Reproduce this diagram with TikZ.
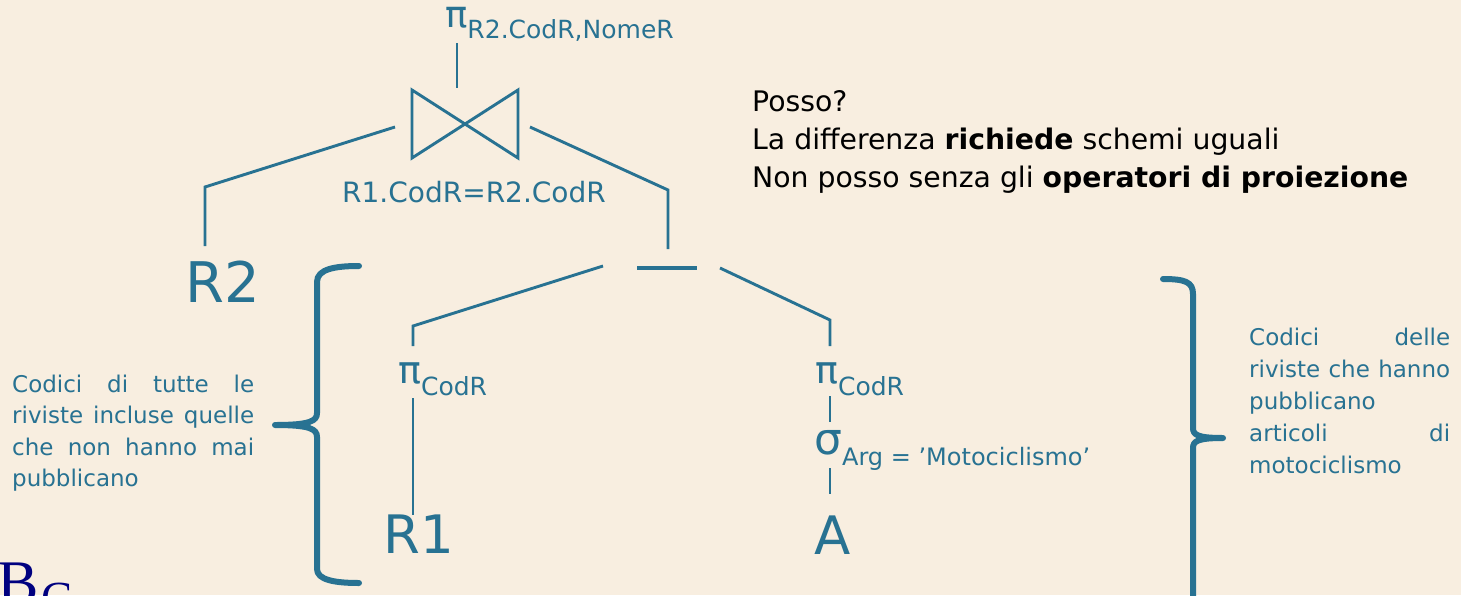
\documentclass[tikz,border=0pt]{standalone}
\usepackage{fontspec}
\setmainfont{DejaVu Sans}
\newfontfamily\logofont{Liberation Serif}
\definecolor{tl}{RGB}{40,114,146}
\definecolor{bgc}{RGB}{248,238,224}
\definecolor{navy}{RGB}{0,0,128}
\newcommand\fs[1]{\fontsize{#1}{#1}\selectfont}
\newcommand\opsym[5]{{\fs{#2}#1}\raisebox{-#5pt}{\fs{#4}#3}}
\begin{document}
\begin{tikzpicture}[x=1pt,y=-1pt]
\tikzset{
  edge/.style={draw=tl,line width=2.9pt},
  bar/.style={draw=tl,line width=4pt},
  bracestroke/.style={draw=tl,line width=6pt,line cap=round,line join=round},
  lbl/.style={text=tl,inner sep=0pt,anchor=base west},
  sidetxt/.style={text=tl,inner sep=0pt,anchor=base west}
}
\useasboundingbox (0,0) rectangle (1461,595);
\fill[bgc] (0,0) rectangle (1461,595);
\clip (0,0) rectangle (1461,595);

% labels
\node[lbl] (pitop) at (445,27) {\opsym{π}{37}{R2.CodR,NomeR}{25}{11}};
\node[lbl] (cond) at (342,202) {\fs{28}R1.CodR=R2.CodR};
\node[lbl] (r2) at (185,302) {\fs{56}R2};
\node[lbl] (pil) at (398,383) {\opsym{π}{38}{CodR}{25}{12}};
\node[lbl] (pir) at (815,383) {\opsym{π}{38}{CodR}{25}{12}};
\node[lbl] (sig) at (814,454) {\opsym{σ}{44}{Arg = ’Motociclismo’}{24}{11}};
\node[lbl] (r1) at (383,553) {\fs{53}R1};
\node[lbl] (a) at (814,554) {\fs{53}A};

% side texts
\node[sidetxt] (txtl) at (12,392) {\parbox[t]{242pt}{\fontsize{23}{31.5}\selectfont
  \hbox to 242pt{Codici\hfill di\hfill tutte\hfill le}
  \hbox to 242pt{riviste\hfill incluse\hfill quelle}
  \hbox to 242pt{che\hfill non\hfill hanno\hfill mai}
  \hbox{pubblicano}}};
\node[sidetxt] (txtr) at (1249,345) {\parbox[t]{201pt}{\fontsize{23}{32}\selectfont
  \hbox to 201pt{Codici\hfill delle}
  \hbox to 201pt{riviste\hfill che\hfill hanno}
  \hbox{pubblicano}
  \hbox to 201pt{articoli\hfill di}
  \hbox{motociclismo}}};

\node[anchor=base west,inner sep=0pt,text=black] (posso) at (752,111) {\parbox[t]{700pt}{\fontsize{28.3}{38}\selectfont
  Posso?\\La differenza \textbf{richiede} schemi uguali\\Non posso senza gli \textbf{operatori di proiezione}}};

% logo
\node[anchor=base west,inner sep=0pt,text=navy] (logo) at (-3,603) {\logofont\fs{62}B\kern3pt\raisebox{-10pt}{\fs{46}G}};

% coordinates
\coordinate (t1) at (457,43);  \coordinate (t2) at (457,88);
\coordinate (b1) at (412,90);  \coordinate (b2) at (412,158);
\coordinate (b3) at (518,90);  \coordinate (b4) at (518,158);
\coordinate (jl) at (395,127); \coordinate (jlk) at (205,187); \coordinate (jle) at (205,246);
\coordinate (jr) at (530,127); \coordinate (jrk) at (668,190); \coordinate (jre) at (668,249);
\coordinate (d1) at (637,268); \coordinate (d2) at (697,268);
\coordinate (dl) at (603,266); \coordinate (dlk) at (413,326); \coordinate (dle) at (413,346);
\coordinate (dr) at (720,268); \coordinate (drk) at (830,320); \coordinate (dre) at (830,346);
\coordinate (l1) at (413,398); \coordinate (l2) at (413,515);
\coordinate (s1) at (830,396); \coordinate (s2) at (830,422);
\coordinate (s3) at (830,468); \coordinate (s4) at (830,494);

\draw[edge] (t1) -- (t2);
\draw[edge,line join=miter] (b1) -- (b2) -- (b3) -- (b4) -- cycle;
\draw[edge] (jl) -- (jlk) -- (jle);
\draw[edge] (jr) -- (jrk) -- (jre);
\draw[bar] (d1) -- (d2);
\draw[edge] (dl) -- (dlk) -- (dle);
\draw[edge] (dr) -- (drk) -- (dre);
\draw[edge] (l1) -- (l2);
\draw[edge] (s1) -- (s2);
\draw[edge] (s3) -- (s4);

% braces
\draw[bracestroke] (359,266) .. controls (335,266) and (317,269) .. (317,282) -- (317,413)
  .. controls (317,421) and (310,425) .. (275,425)
  .. controls (310,425) and (317,429) .. (317,437) -- (317,569)
  .. controls (317,580) and (335,583) .. (359,583);
\draw[bracestroke] (1163,279) .. controls (1185,279) and (1193,282) .. (1193,294) -- (1193,428)
  .. controls (1193,435) and (1198,438) .. (1223,438)
  .. controls (1198,438) and (1193,441) .. (1193,448) -- (1193,610);
\end{tikzpicture}
\end{document}
